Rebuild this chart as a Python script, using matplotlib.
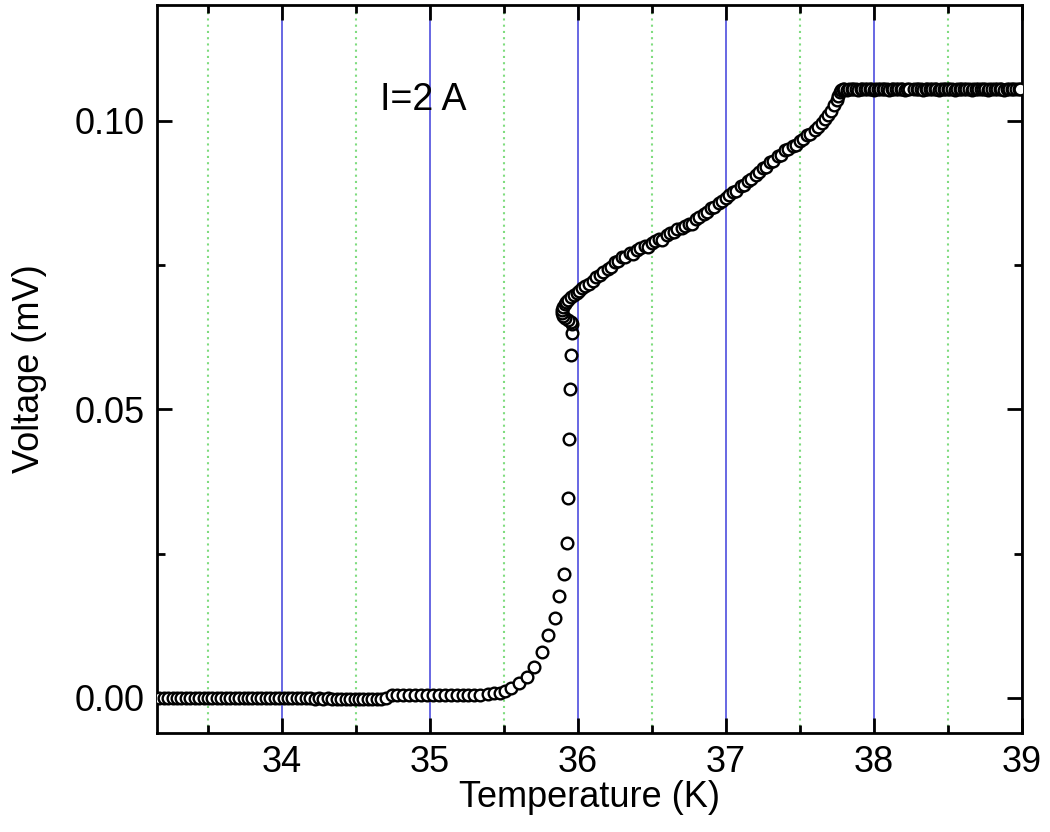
import numpy as np
import matplotlib
matplotlib.use('Agg')
import matplotlib.pyplot as plt
from matplotlib.ticker import MultipleLocator, FormatStrFormatter

plt.rcParams['font.family'] = ['Liberation Sans', 'DejaVu Sans']

# superconducting baseline
t_base = [33.17, 33.20, 33.23, 33.26, 33.29, 33.32, 33.35, 33.38, 33.41, 33.44,
          33.47, 33.50, 33.53, 33.56, 33.59, 33.62, 33.65, 33.68, 33.71, 33.74,
          33.77, 33.80, 33.83, 33.86, 33.89, 33.92, 33.95, 33.98, 34.01, 34.04,
          34.07, 34.10, 34.13, 34.16, 34.19, 34.22, 34.25, 34.28, 34.31, 34.34,
          34.37, 34.40, 34.43, 34.46, 34.49, 34.52, 34.55, 34.58, 34.61, 34.64,
          34.67, 34.70,
          34.74, 34.78, 34.82, 34.86, 34.90, 34.94, 34.98, 35.02, 35.06, 35.10,
          35.14, 35.18, 35.22, 35.26, 35.30, 35.34]
v_base = [0.0000, 0.0000, 0.0000, 0.0000, 0.0000, 0.0000, 0.0000, 0.0000, 0.0000, 0.0000,
          0.0000, 0.0000, 0.0000, 0.0000, 0.0000, 0.0000, 0.0000, 0.0000, 0.0000, 0.0000,
          0.0000, 0.0000, -0.0001, -0.0001, 0.0000, -0.0001, 0.0000, 0.0000, -0.0001, 0.0000,
          -0.0001, -0.0001, 0.0000, -0.0001, -0.0001, -0.0002, -0.0001, -0.0002, -0.0001, -0.0002,
          -0.0002, -0.0002, -0.0002, -0.0002, -0.0002, -0.0002, -0.0002, -0.0002, -0.0002, -0.0002,
          -0.0002, -0.0001,
          0.0004, 0.0005, 0.0005, 0.0005, 0.0004, 0.0004, 0.0005, 0.0005, 0.0004, 0.0004,
          0.0004, 0.0004, 0.0004, 0.0004, 0.0005, 0.0005]

# resistive transition
t_trans = [35.39, 35.43, 35.47, 35.51, 35.55, 35.60, 35.655, 35.70, 35.76, 35.80,
           35.845, 35.872, 35.905, 35.926, 35.93, 35.94, 35.946, 35.953, 35.96, 35.96]
v_trans = [0.0006, 0.0008, 0.0009, 0.0011, 0.0017, 0.0026, 0.0036, 0.0054, 0.0080, 0.0109,
           0.0139, 0.0177, 0.0215, 0.0269, 0.0347, 0.0449, 0.0536, 0.0594, 0.0633, 0.0648]

# normal state
t_norm = [35.95, 35.93, 35.91, 35.90, 35.895, 35.895, 35.90, 35.91, 35.92, 35.935,
          35.95, 35.97, 35.99, 36.01, 36.03,
          36.05, 36.075, 36.10, 36.12, 36.15, 36.17, 36.20, 36.22, 36.25, 36.27,
          36.30, 36.32, 36.35, 36.37, 36.40, 36.42, 36.45, 36.47, 36.50, 36.52,
          36.55, 36.57, 36.60, 36.62, 36.65, 36.67, 36.70, 36.72, 36.75, 36.77,
          36.80, 36.82, 36.85, 36.87, 36.90, 36.92, 36.95, 36.97, 37.00, 37.02,
          37.05, 37.07, 37.10, 37.12, 37.15, 37.17, 37.20, 37.22, 37.25, 37.27,
          37.30, 37.32, 37.35, 37.37, 37.40, 37.42, 37.45, 37.47, 37.50, 37.52,
          37.55, 37.57, 37.60, 37.62, 37.65, 37.67, 37.69, 37.71, 37.73, 37.75,
          37.76, 37.77, 37.78]
v_norm = [0.0652, 0.0655, 0.0658, 0.0662, 0.0667, 0.0672, 0.0677, 0.0682, 0.0686, 0.0690,
          0.0694, 0.0698, 0.0702, 0.0706, 0.0710,
          0.0714, 0.0718, 0.0723, 0.0729, 0.0733, 0.0738, 0.0744, 0.0747, 0.0755, 0.0757,
          0.0764, 0.0765, 0.0771, 0.0770, 0.0777, 0.0779, 0.0783, 0.0782, 0.0789, 0.0792,
          0.0796, 0.0794, 0.0803, 0.0806, 0.0808, 0.0813, 0.0815, 0.0818, 0.0822, 0.0821,
          0.0830, 0.0834, 0.0838, 0.0843, 0.0849, 0.0851, 0.0858, 0.0862, 0.0866, 0.0871,
          0.0876, 0.0878, 0.0887, 0.0889, 0.0896, 0.0899, 0.0907, 0.0911, 0.0918, 0.0921,
          0.0929, 0.0931, 0.0939, 0.0941, 0.0949, 0.0952, 0.0956, 0.0958, 0.0966, 0.0969,
          0.0975, 0.0977, 0.0985, 0.0990, 0.0997, 0.1003, 0.1010, 0.1017, 0.1027, 0.1036,
          0.1044, 0.1050, 0.1054]

# plateau above Tc
t_plat = [37.79, 37.80, 37.82, 37.83, 37.85, 37.86, 37.88, 37.89, 37.91, 37.92,
          37.94, 37.95, 37.97, 37.98, 38.00, 38.01, 38.03, 38.04, 38.06, 38.07,
          38.09, 38.10, 38.12, 38.13, 38.15, 38.16, 38.18, 38.19, 38.21, 38.22,
          38.24, 38.27, 38.29, 38.30, 38.32, 38.33, 38.35, 38.36, 38.38, 38.39,
          38.41, 38.42, 38.44, 38.45, 38.47, 38.48, 38.50, 38.51, 38.53, 38.55,
          38.56, 38.58, 38.59, 38.61, 38.62, 38.64, 38.66, 38.67, 38.69, 38.70,
          38.72, 38.74, 38.75, 38.77, 38.78, 38.80, 38.82, 38.83, 38.85, 38.86,
          38.88, 38.90, 38.91, 38.93, 38.94, 38.96, 38.98, 38.99]
v_plat = [0.1055, 0.1055, 0.1054, 0.1055, 0.1055, 0.1056, 0.1055, 0.1054, 0.1055, 0.1055,
          0.1055, 0.1056, 0.1055, 0.1055, 0.1054, 0.1055, 0.1055, 0.1055, 0.1056, 0.1055,
          0.1055, 0.1054, 0.1055, 0.1055, 0.1055, 0.1056, 0.1055, 0.1055, 0.1054, 0.1055,
          0.1055, 0.1056, 0.1055, 0.1055, 0.1055, 0.1054, 0.1055, 0.1055, 0.1056, 0.1055,
          0.1055, 0.1055, 0.1054, 0.1055, 0.1055, 0.1055, 0.1056, 0.1055, 0.1055, 0.1054,
          0.1055, 0.1055, 0.1055, 0.1056, 0.1055, 0.1055, 0.1054, 0.1055, 0.1055, 0.1055,
          0.1056, 0.1055, 0.1055, 0.1054, 0.1055, 0.1055, 0.1055, 0.1056, 0.1055, 0.1055,
          0.1054, 0.1055, 0.1055, 0.1055, 0.1056, 0.1055, 0.1055, 0.1055]

fig = plt.figure(figsize=(10.5, 8.32), dpi=100)
ax = fig.add_axes([0.1495, 0.119, 0.8238, 0.875])

for t, v in [(t_base, v_base), (t_trans, v_trans), (t_norm, v_norm), (t_plat, v_plat)]:
    ax.plot(t, v, 'o', ms=8.4, mfc='white', mec='black', mew=1.7, zorder=3)

ax.set_xlim(33.155, 39.0)
ax.set_ylim(-0.0061, 0.1201)

ax.xaxis.set_major_locator(MultipleLocator(1))
ax.xaxis.set_minor_locator(MultipleLocator(0.5))
ax.yaxis.set_major_locator(MultipleLocator(0.05))
ax.yaxis.set_minor_locator(MultipleLocator(0.025))
ax.yaxis.set_major_formatter(FormatStrFormatter('%.2f'))

ax.set_axisbelow(True)
ax.xaxis.grid(True, which='major', color='#5c5ce0', lw=1.3, ls='-')
ax.xaxis.grid(True, which='minor', color='#7fdc7f', lw=1.5, ls=(0, (1, 2)))

ax.tick_params(which='both', direction='in', top=True, right=True, width=2, labelsize=26)
ax.tick_params(which='major', length=11, pad=9)
ax.tick_params(which='minor', length=6)
for s in ax.spines.values():
    s.set_linewidth(2)

ax.set_xlabel('Temperature (K)', fontsize=26, labelpad=0)
ax.set_ylabel('Voltage (mV)', fontsize=26, labelpad=20)

ax.text(34.66, 0.1036, 'I=2 A', fontsize=27, ha='left', va='center')

fig.savefig('out.png', dpi=100)
